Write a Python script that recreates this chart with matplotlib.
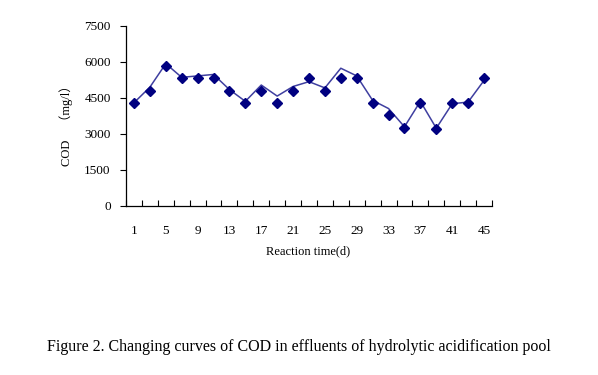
import matplotlib.pyplot as plt
import numpy as np

# dias de reaccion (uno cada dos dias)
days = list(range(1, 46, 2))
cod_measured = [4300, 4800, 5850, 5330, 5330, 5330, 4800, 4300, 4800, 4300, 4800, 5350,
                4800, 5350, 5330, 4300, 3780, 3230, 4300, 3200, 4300, 4300, 5340]
cod_curve = [4300, 4950, 5930, 5360, 5420, 5480, 4850, 4360, 5040, 4580, 4980, 5180,
             4920, 5740, 5420, 4400, 4060, 3300, 4360, 3240, 4260, 4330, 5230]
y_ticks = [0, 1500, 3000, 4500, 6000, 7500]

serif = ['Liberation Serif', 'Noto Sans CJK SC']
plt.rcParams['font.family'] = serif

fig = plt.figure(figsize=(5.98, 3.75), dpi=100)
ax = fig.add_axes([0.2107, 0.4507, 0.612, 0.48])

x = np.arange(len(days))
ax.plot(x, cod_curve, color='#3f3fa0', lw=1.1)
ax.plot(x, cod_measured, ls='none', marker='D', ms=5, color='#000080')

ax.set_xlim(-0.5, len(days) - 0.5)
ax.set_ylim(0, 7500)

# etiquetas cada dos categorias
ax.set_xticks(x[::2])
ax.set_xticklabels([str(d) for d in days[::2]], fontsize=9.5)
ax.set_xticks(np.arange(-0.5, len(days)), minor=True)
ax.tick_params(axis='x', which='major', length=0, pad=14)
ax.tick_params(axis='x', which='minor', direction='in', length=4, width=0.8)

ax.set_yticks(y_ticks)
ax.set_yticklabels([str(v) for v in y_ticks], fontsize=9.5)
ax.tick_params(axis='y', direction='out', length=4, width=0.8, pad=7)

for s in ['top', 'right']:
    ax.spines[s].set_visible(False)
for s in ['left', 'bottom']:
    ax.spines[s].set_linewidth(0.9)

fig.text(0.11, 0.672, 'COD\u3000\uff08mg/l\uff09', rotation=90, ha='center', va='center',
         fontsize=9, family=serif)
fig.text(0.515, 0.331, 'Reaction time(d)', ha='center', va='center', fontsize=9)
fig.text(0.5, 0.075, 'Figure 2. Changing curves of COD in effluents of hydrolytic acidification pool',
         ha='center', va='center', fontsize=11.5)

fig.savefig('out.png', dpi=100)
